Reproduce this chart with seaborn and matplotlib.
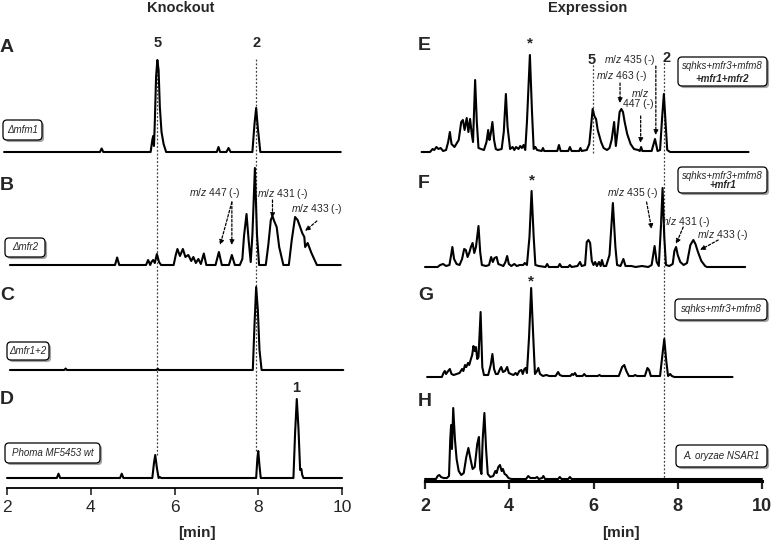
import numpy as np
import pandas as pd
import matplotlib
matplotlib.use("Agg")
import matplotlib.pyplot as plt
import matplotlib.transforms as mtransforms
import matplotlib.patheffects as pe
from matplotlib.patches import FancyBboxPatch
import seaborn as sns

# =========================
# Data (retention time [min], relative intensity)
# =========================
# Knockout panels
A_time = [1.93, 4.22, 4.26, 4.30, 5.43, 5.47, 5.49, 5.51, 5.53, 5.56, 5.59, 5.62, 5.65, 5.69, 5.74, 5.80,
          7.01, 7.05, 7.09, 7.24, 7.29, 7.34, 7.86, 7.91, 7.95, 7.99, 8.05, 9.97]
A_int = [0, 0, 3.5, 0, 0, 12, 16, 6, 30, 75, 92, 82, 45, 20, 8, 0,
         0, 5, 0, 0, 4, 0, 0, 28, 44, 24, 0, 0]

B_time = [2.07, 4.58, 4.63, 4.68, 5.32, 5.37, 5.42, 5.45, 5.49, 5.53, 5.58, 5.63, 5.68, 5.72,
          5.98, 6.03, 6.07, 6.13, 6.20, 6.26, 6.33, 6.40, 6.45, 6.51, 6.57, 6.63, 6.70, 6.76,
          6.98, 7.06, 7.13, 7.30, 7.37, 7.44, 7.56, 7.62, 7.66, 7.72, 7.77, 7.82, 7.86, 7.92,
          7.97, 8.02, 8.18, 8.24, 8.30, 8.34, 8.38, 8.44, 8.50, 8.60, 8.73, 8.80, 8.88, 8.94,
          9.00, 9.05, 9.10, 9.12, 9.18, 9.27, 9.40, 9.97]
B_int = [0, 0, 7.5, 0, 0, 5, 0, 3, 5, 2, 11, 3, 0, 0,
         0, 10, 16, 9, 16, 8, 10, 4, 8, 2, 6, 1, 11.5, 0,
         0, 13, 0, 0, 10, 0, 0, 6, 29, 51, 25, 3, 30, 97,
         30, 0, 0, 20, 45, 49, 44, 38, 18, 0, 0, 25, 48, 45,
         38, 32, 28, 18, 22, 12, 0, 0]

C_time = [2.07, 3.37, 3.40, 3.43, 5.57, 5.60, 5.63, 7.87, 7.91, 7.95, 7.99, 8.03, 8.08, 10.03]
C_int = [0, 0, 1.5, 0, 0, 1.2, 0, 0, 45, 83, 60, 20, 0, 0]

D_time = [2.0, 3.19, 3.23, 3.27, 4.70, 4.74, 4.78, 5.47, 5.51, 5.54, 5.58, 5.62, 5.65, 5.68,
          7.95, 7.98, 8.00, 8.03, 8.06, 8.84, 8.88, 8.92, 8.96, 9.00, 9.03, 9.05, 9.08, 10.0]
D_int = [0, 0, 4.3, 0, 0, 4.3, 0, 0, 15, 23, 10, 0, 1, 0,
         0, 20, 27, 12, 0, 0, 45, 79, 50, 8, 9, 3, 0, 0]

# Expression panels
E_time = [1.92, 2.12, 2.18, 2.22, 2.27, 2.32, 2.37, 2.43, 2.50, 2.55, 2.59, 2.63, 2.70, 2.80,
          2.86, 2.90, 2.94, 2.99, 3.03, 3.07, 3.11, 3.14, 3.19, 3.23, 3.27,
          3.33, 3.40, 3.46, 3.50, 3.53, 3.56, 3.60, 3.64, 3.68, 3.73, 3.82, 3.87, 3.92, 3.96,
          4.02, 4.08, 4.12, 4.16, 4.22, 4.26, 4.30, 4.34, 4.38, 4.42, 4.49, 4.54, 4.58, 4.62,
          4.66, 4.77, 4.80, 4.83, 5.14, 5.18, 5.22, 5.40, 5.44, 5.48, 5.66, 5.69, 5.72, 5.84,
          5.90, 5.94, 5.98, 6.02, 6.06, 6.10, 6.14, 6.18, 6.24, 6.32, 6.38, 6.43, 6.49, 6.53,
          6.57, 6.62, 6.66, 6.70, 6.74, 6.80, 6.88, 6.96, 7.06, 7.10, 7.13, 7.16, 7.38, 7.46,
          7.52, 7.58, 7.63, 7.67, 7.71, 7.75, 7.82, 9.68]
E_int = [0, 0, 3, 2, 5, 3, 4, 1, 2, 10, 20, 8, 5, 12,
         30, 32, 22, 34, 20, 33, 18, 10, 72, 30, 4,
         3, 2, 10, 22, 12, 18, 30, 12, 3, 2, 3, 20, 58, 25,
         3, 5, 2, 5, 3, 6, 4, 7, 2, 30, 97, 40, 3, 5,
         2, 1, 4, 1, 1, 7, 1, 1, 5, 1, 1, 4, 1, 2,
         8, 25, 43, 36, 33, 22, 16, 10, 4, 2, 4, 12, 30, 6,
         20, 40, 43, 40, 30, 18, 8, 3, 2, 1, 5, 1, 1, 13,
         1, 2, 35, 58, 30, 2, 0, 0]

F_time = [2.0, 2.30, 2.36, 2.43, 2.50, 2.58, 2.62, 2.65, 2.69, 2.75, 2.82, 2.88, 2.93, 2.97,
          3.01, 3.05, 3.09, 3.13, 3.17, 3.21, 3.27, 3.31, 3.35, 3.45, 3.52, 3.57, 3.61, 3.65,
          3.70, 3.74, 3.80, 3.86, 3.91, 3.95, 3.99, 4.05, 4.12, 4.18, 4.25, 4.33, 4.37, 4.42,
          4.48, 4.53, 4.58, 4.62, 4.70, 4.86, 4.90, 4.94, 5.16, 5.20, 5.24, 5.40, 5.44, 5.48,
          5.62, 5.68, 5.72, 5.80, 5.84, 5.88, 5.92, 5.96, 6.00, 6.04, 6.08, 6.13, 6.17, 6.20,
          6.24, 6.30, 6.38, 6.46, 6.52, 6.56, 6.64, 6.71, 6.76, 6.90, 7.00, 7.15, 7.30, 7.38,
          7.45, 7.50, 7.55, 7.60, 7.64, 7.68, 7.72, 7.80, 7.88, 7.92, 7.96, 8.00, 8.06, 8.14,
          8.22, 8.30, 8.37, 8.42, 8.48, 8.56, 8.65, 8.69, 9.60]
F_int = [0, 0, 2, 3, 1, 2, 12, 20, 8, 3, 2, 8, 18, 17,
         10, 14, 20, 24, 14, 20, 41, 15, 2, 1, 2, 10, 5, 9,
         10, 3, 2, 1, 5, 11, 3, 1, 3, 1, 2, 2, 4, 2,
         30, 76, 30, 2, 1, 0, 3, 0, 0, 3, 0, 0, 2, 0,
         1, 5, 1, 2, 25, 27, 24, 6, 2, 5, 1, 5, 1, 7,
         1, 1, 12, 64, 20, 2, 1, 8, 1, 1, 0, 1, 0, 2,
         21, 5, 1, 40, 79, 30, 2, 1, 3, 16, 20, 12, 5, 2,
         4, 22, 27, 23, 15, 6, 1, 0, 0]

G_time = [2.05, 2.40, 2.44, 2.47, 2.50, 2.55, 2.59, 2.63, 2.68, 2.75, 2.82, 2.88, 2.91, 2.95,
          2.98, 3.02, 3.05, 3.09, 3.12, 3.15, 3.18, 3.21, 3.24, 3.27, 3.32, 3.36, 3.40, 3.50,
          3.56, 3.60, 3.64, 3.68, 3.73, 3.78, 3.81, 3.85, 3.90, 3.95, 3.99, 4.04, 4.10, 4.15,
          4.19, 4.24, 4.29, 4.32, 4.36, 4.39, 4.42, 4.47, 4.52, 4.57, 4.61, 4.66, 4.69, 4.73,
          4.80, 4.88, 4.95, 5.10, 5.16, 5.20, 5.26, 5.45, 5.49, 5.52, 5.56, 5.60, 5.74, 5.78,
          5.82, 6.10, 6.14, 6.18, 6.60, 6.68, 6.73, 6.78, 6.84, 6.95, 6.99, 7.03, 7.22, 7.28,
          7.32, 7.36, 7.58, 7.63, 7.68, 7.73, 7.77, 7.82, 7.86, 7.92, 9.30]
G_int = [0, 0, 4, 6, 3, 6, 8, 3, 2, 3, 4, 8, 6, 12,
         10, 14, 12, 18, 22, 31, 26, 30, 18, 20, 65, 10, 2, 2,
         12, 23, 8, 3, 3, 8, 10, 5, 6, 10, 4, 3, 2, 4,
         2, 6, 7, 3, 8, 9, 4, 40, 89, 40, 3, 6, 9, 3,
         1, 2, 1, 1, 5, 2, 1, 1, 3, 2, 4, 1, 1, 3,
         1, 1, 2, 1, 1, 10, 12, 6, 1, 1, 2, 1, 1, 9,
         7, 1, 1, 20, 38, 15, 1, 3, 1, 0, 0]

H_time = [2.0, 2.26, 2.30, 2.34, 2.38, 2.44, 2.52, 2.57, 2.60, 2.62, 2.64, 2.67, 2.71, 2.75,
          2.80, 2.86, 2.92, 2.98, 3.03, 3.08, 3.13, 3.18, 3.24, 3.28, 3.31, 3.34, 3.37, 3.41,
          3.45, 3.49, 3.55, 3.62, 3.67, 3.70, 3.74, 3.78, 3.82, 3.85, 3.89, 3.93, 3.98, 4.05,
          4.40, 4.45, 4.50, 4.62, 4.66, 4.70, 4.78, 4.81, 4.85, 5.16, 5.20, 5.24, 5.40, 5.44,
          5.48, 10.0]
H_int = [0, 0, 3, 4, 2, 1, 1, 3, 40, 54, 30, 71, 40, 20,
         8, 4, 6, 22, 31, 20, 10, 12, 35, 42, 10, 5, 40, 66,
         30, 5, 2, 3, 8, 6, 12, 14, 8, 10, 5, 4, 1, 0,
         0, 3, 1, 1, 2, 0, 1, 3, 0, 0, 2, 0, 0, 2,
         0, 0]

# reference retention times (dotted guide lines)
ko_ref_times = [5.58, 7.95]          # compounds 5 and 2 (knockout)
ex_ref_times = [5.98, 7.67]          # compounds 5 and 2 (expression)

ko_labels = ["\u0394mfm1", "\u0394mfr2", "\u0394mfr1+2", "Phoma MF5453 wt"]
ex_labels = [("sqhks+mfr3+mfm8", "+mfr1+mfr2"), ("sqhks+mfr3+mfm8", "+mfr1"),
             ("sqhks+mfr3+mfm8", None), ("A. oryzae NSAR1", None)]

# =========================
# Style
# =========================
sns.set_style("white")
plt.rcParams['font.family'] = ['Liberation Sans', 'DejaVu Sans']
plt.rcParams['mathtext.fontset'] = 'custom'
plt.rcParams['mathtext.it'] = 'Liberation Sans:italic'
plt.rcParams['mathtext.rm'] = 'Liberation Sans'

W, H = 774, 544
fig = plt.figure(figsize=(W / 100, H / 100), dpi=100)
# pixel coords measured from the top-left corner
PX = mtransforms.Affine2D().scale(1 / W, -1 / H).translate(0, 1) + fig.transFigure

ax_ko = fig.add_axes([7 / W, (H - 488) / H, 335 / W, 488 / H])
ax_ex = fig.add_axes([425 / W, (H - 481) / H, 337 / W, 481 / H])
ax_ko.set_ylim(0, 488)
ax_ex.set_ylim(0, 481)

ko_traces = [(A_time, A_int, 336), (B_time, B_int, 223), (C_time, C_int, 118), (D_time, D_int, 10)]
ex_traces = [(E_time, E_int, 329), (F_time, F_int, 214), (G_time, G_int, 104), (H_time, H_int, 2)]

for ax, traces, spine_lw in [(ax_ko, ko_traces, 1.3), (ax_ex, ex_traces, 2.2)]:
    for t, y, off in traces:
        assert len(t) == len(y)
        df = pd.DataFrame({"time": t, "signal": np.asarray(y, float) + off})
        sns.lineplot(data=df, x="time", y="signal", ax=ax, color="black", lw=1.5,
                     estimator=None, sort=False)
    for ln in ax.lines:
        ln.set_clip_on(False)
    ax.set_xlim(2, 10)
    ax.set_xticks([2, 4, 6, 8, 10])
    ax.set_yticks([])
    ax.set_xlabel("")
    ax.set_ylabel("")
    ax.patch.set_alpha(0)
    for s in ["left", "right", "top"]:
        ax.spines[s].set_visible(False)
    ax.spines["bottom"].set_linewidth(spine_lw)
    ax.spines["bottom"].set_color("black")

ax_ko.tick_params(axis="x", bottom=True, direction="out", length=5, width=1.2, labelsize=12.5, pad=4)
ax_ex.tick_params(axis="x", bottom=True, direction="out", length=6, width=1.6, labelsize=13, pad=6)
for lab in ax_ex.get_xticklabels():
    lab.set_fontweight("bold")

dot = (0, (1.5, 1.5))
# guide lines (knockout): from the compound number down to the wild-type peak
ax_ko.vlines(ko_ref_times[0], 10 + 23, 430, colors="0.25", linestyles=dot, lw=0.9, zorder=0)
ax_ko.vlines(ko_ref_times[1], 10 + 27, 430, colors="0.25", linestyles=dot, lw=0.9, zorder=0)
ax_ex.vlines(ex_ref_times[0], 328, 418, colors="0.25", linestyles=dot, lw=0.9, zorder=0)
ax_ex.vlines(ex_ref_times[1], 0, 421, colors="0.25", linestyles=dot, lw=0.9, zorder=0)


def arrow(ax, start, end):
    ax.annotate("", xy=end, xytext=start,
                arrowprops=dict(arrowstyle="-|>", linestyle=(0, (2, 1.5)), lw=0.9,
                                color="black", mutation_scale=7, shrinkA=0, shrinkB=0),
                annotation_clip=False)


mz = r"$\mathit{m/z}$"
fs_ann = 7.5
# knockout annotations
ax_ko.text(5.59, 445, "5", ha="center", va="center", fontsize=10.5, fontweight="bold")
ax_ko.text(7.95, 445, "2", ha="center", va="center", fontsize=10.5, fontweight="bold")
ax_ko.text(8.91, 100, "1", ha="center", va="center", fontsize=10.5, fontweight="bold")
ax_ko.text(6.97, 295, mz + " 447 (-)", ha="center", va="center", fontsize=fs_ann, color="0.15")
arrow(ax_ko, (7.37, 286), (7.09, 243))
arrow(ax_ko, (7.37, 286), (7.37, 243))
ax_ko.text(8.59, 294, mz + " 431 (-)", ha="center", va="center", fontsize=fs_ann, color="0.15")
arrow(ax_ko, (8.34, 288), (8.34, 270))
ax_ko.text(9.40, 279, mz + " 433 (-)", ha="center", va="center", fontsize=fs_ann, color="0.15")
arrow(ax_ko, (9.40, 267), (9.12, 257))

# expression annotations
for t_star, y_star in [(4.48, 438), (4.53, 301), (4.52, 200)]:
    ax_ex.text(t_star, y_star, "*", ha="center", va="center", fontsize=11, fontweight="bold")
ax_ex.text(5.95, 421, "5", ha="center", va="center", fontsize=10.5, fontweight="bold")
ax_ex.text(7.73, 423, "2", ha="center", va="center", fontsize=10.5, fontweight="bold")
ax_ex.text(6.87, 421, mz + " 435 (-)", ha="center", va="center", fontsize=fs_ann, color="0.15")
arrow(ax_ex, (7.48, 415), (7.48, 346))
ax_ex.text(6.68, 405, mz + " 463 (-)", ha="center", va="center", fontsize=fs_ann, color="0.15")
arrow(ax_ex, (6.63, 398), (6.63, 378))
ax_ex.text(7.10, 388, mz, ha="center", va="center", fontsize=fs_ann, color="0.15")
ax_ex.text(7.06, 377, "447 (-)", ha="center", va="center", fontsize=fs_ann, color="0.15")
arrow(ax_ex, (7.12, 365), (7.12, 338))
ax_ex.text(6.94, 288, mz + " 435 (-)", ha="center", va="center", fontsize=fs_ann, color="0.15")
arrow(ax_ex, (7.26, 279), (7.38, 252))
ax_ex.text(8.17, 259, mz + " 431 (-)", ha="center", va="center", fontsize=fs_ann, color="0.15")
arrow(ax_ex, (8.13, 254), (7.96, 237))
ax_ex.text(9.07, 246, mz + " 433 (-)", ha="center", va="center", fontsize=fs_ann, color="0.15")
arrow(ax_ex, (8.96, 241), (8.53, 231))

# =========================
# Titles, panel letters, sample boxes (figure pixel coords)
# =========================
fig.text(181, 8, "Knockout", transform=PX, ha="center", va="center", fontsize=10.5, fontweight="bold")
fig.text(588, 8, "Expression", transform=PX, ha="center", va="center", fontsize=10.5, fontweight="bold")
fig.text(197, 533, "[min]", transform=PX, ha="center", va="center", fontsize=11, fontweight="bold")
fig.text(621, 533, "[min]", transform=PX, ha="center", va="center", fontsize=11, fontweight="bold")

for letter, x, y in [("A", 0, 47), ("B", 0, 185), ("C", 0, 295), ("D", 0, 400),
                     ("E", 418, 46), ("F", 418, 183), ("G", 418, 296), ("H", 418, 402)]:
    fig.text(x, y, letter, transform=PX, ha="left", va="center", fontsize=14, fontweight="bold")


def sample_box(x0, y0, x1, y1):
    box = FancyBboxPatch((x0, y0), x1 - x0, y1 - y0, boxstyle="round,pad=0,rounding_size=4",
                         transform=PX, fc="white", ec="black", lw=0.9, zorder=5,
                         path_effects=[pe.SimplePatchShadow(offset=(1.5, -1.5), shadow_rgbFace="0.55",
                                                            alpha=0.8), pe.Normal()])
    fig.add_artist(box)


ko_boxes = [(3, 120, 42, 140), (5, 238, 45, 257), (7, 342, 49, 360), (5, 443, 100, 463)]
for (x0, y0, x1, y1), lab in zip(ko_boxes, ko_labels):
    sample_box(x0, y0, x1, y1)
    fig.text((x0 + x1) / 2, (y0 + y1) / 2, lab, transform=PX, ha="center", va="center",
             fontsize=7, fontstyle="italic", color="0.15", zorder=6)

ex_boxes = [(678, 57, 767, 86), (678, 167, 767, 193), (675, 299, 767, 320), (676, 445, 767, 467)]
for (x0, y0, x1, y1), (l1, l2) in zip(ex_boxes, ex_labels):
    sample_box(x0, y0, x1, y1)
    xc = (x0 + x1) / 2
    if l2 is None:
        fig.text(xc, (y0 + y1) / 2, l1, transform=PX, ha="center", va="center",
                 fontsize=7, fontstyle="italic", color="0.15", zorder=6)
    else:
        fig.text(xc, y0 + 9, l1, transform=PX, ha="center", va="center",
                 fontsize=7, fontstyle="italic", color="0.15", zorder=6)
        fig.text(xc, y1 - 7.5, l2, transform=PX, ha="center", va="center",
                 fontsize=7, fontstyle="italic", fontweight="bold", zorder=6)

plt.savefig("out.png", dpi=100)
plt.close()
